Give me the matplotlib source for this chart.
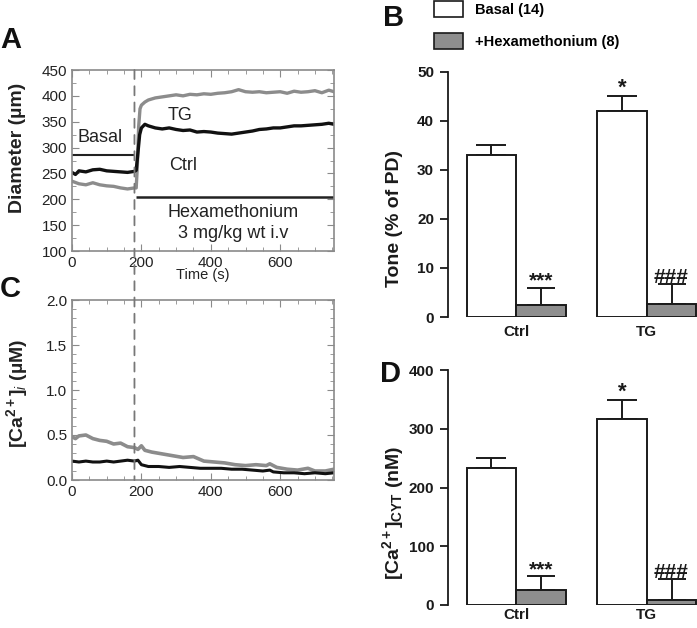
import matplotlib
matplotlib.use("Agg")
import matplotlib.pyplot as plt
from matplotlib.patches import Patch, ConnectionPatch
from matplotlib.ticker import MultipleLocator, FormatStrFormatter
import numpy as np

plt.rcParams['font.family'] = ['Liberation Sans', 'DejaVu Sans']
plt.rcParams['mathtext.fontset'] = 'custom'
plt.rcParams['mathtext.rm'] = 'Liberation Sans:bold'
plt.rcParams['mathtext.it'] = 'Liberation Sans:italic'
plt.rcParams['mathtext.bf'] = 'Liberation Sans:bold'
plt.rcParams['mathtext.default'] = 'bf'

# ---------------- Data ----------------
# Panel A: diameter traces (um) vs time (s)
ctrl_t = [0, 10, 20, 40, 60, 80, 100, 120, 140, 160, 180, 185, 190, 195, 200, 210, 220, 240, 260, 280,
          300, 320, 340, 360, 380, 400, 420, 440, 460, 480, 500, 520, 540, 560, 580, 600, 620, 640,
          660, 680, 700, 720, 740, 755]
ctrl_d = [252, 248, 255, 253, 257, 258, 255, 254, 253, 252, 254, 256, 290, 325, 338, 345, 342, 338, 336, 338,
          335, 333, 334, 330, 331, 330, 328, 327, 326, 328, 330, 332, 335, 336, 338, 338, 340, 342,
          342, 343, 344, 345, 347, 345]
tg_t = [0, 20, 40, 60, 80, 100, 120, 140, 160, 180, 185, 188, 192, 196, 200, 210, 220, 240, 260, 280,
        300, 320, 340, 360, 380, 400, 420, 440, 460, 480, 500, 520, 540, 560, 580, 600, 620, 640,
        660, 680, 700, 720, 740, 755]
tg_d = [235, 230, 228, 232, 228, 226, 225, 222, 220, 222, 222, 260, 340, 375, 382, 388, 392, 396, 398, 400,
        402, 400, 403, 402, 404, 403, 405, 406, 408, 412, 408, 407, 408, 406, 407, 408, 405, 409,
        407, 408, 410, 406, 411, 408]
basal_level = 285
hexa_level = 205
drug_time = 180

# Panel C: [Ca2+]i traces (uM)
tgca_t = [0, 10, 20, 40, 60, 80, 100, 120, 140, 160, 180, 190, 200, 210, 230, 260, 290, 320, 350, 380,
          410, 440, 470, 500, 530, 560, 570, 590, 620, 650, 680, 700, 730, 755]
tgca_v = [0.48, 0.46, 0.49, 0.50, 0.46, 0.44, 0.43, 0.40, 0.41, 0.37, 0.36, 0.34, 0.38, 0.33, 0.31, 0.29,
          0.27, 0.25, 0.26, 0.21, 0.20, 0.19, 0.17, 0.16, 0.17, 0.16, 0.18, 0.14, 0.12, 0.11, 0.13, 0.10,
          0.10, 0.12]
ctca_t = [0, 20, 40, 60, 80, 100, 120, 140, 160, 180, 190, 200, 220, 250, 280, 310, 340, 370, 400, 430,
          460, 490, 520, 550, 570, 580, 610, 640, 670, 700, 730, 755]
ctca_v = [0.21, 0.20, 0.21, 0.20, 0.20, 0.21, 0.20, 0.21, 0.22, 0.21, 0.22, 0.17, 0.15, 0.15, 0.14, 0.15,
          0.14, 0.13, 0.13, 0.13, 0.12, 0.12, 0.11, 0.10, 0.11, 0.09, 0.08, 0.08, 0.07, 0.08, 0.07, 0.08]

# Panels B and D: bar charts
groups = ['Ctrl', 'TG']
tone_basal = [33, 42]
tone_basal_err = [2, 3]
tone_hexa = [2.5, 2.6]
tone_hexa_err = [3.5, 4.2]
ca_basal = [233, 317]
ca_basal_err = [18, 32]
ca_hexa = [25, 9]
ca_hexa_err = [24, 35]
basal_marks = ['', '*']
hexa_marks = ['***', '###']
legend_labels = ['Basal (14)', '+Hexamethonium (8)']

W, H = 697, 628
fig = plt.figure(figsize=(W / 100, H / 100), dpi=100)

def ax_px(left, top, right, bottom):
    return fig.add_axes([left / W, 1 - bottom / H, (right - left) / W, (bottom - top) / H])

frame_col = '#8a8a8a'
text_col = '#222222'

def trace_style(ax, xlim, ylim, ymaj, ymin):
    ax.set_xlim(*xlim)
    ax.set_ylim(*ylim)
    for s in ax.spines.values():
        s.set_color(frame_col)
        s.set_linewidth(1.2)
    ax.xaxis.set_major_locator(MultipleLocator(200))
    ax.xaxis.set_minor_locator(MultipleLocator(50))
    ax.yaxis.set_major_locator(MultipleLocator(ymaj))
    ax.yaxis.set_minor_locator(MultipleLocator(ymin))
    ax.tick_params(which='both', direction='in', top=True, right=True, color=frame_col,
                   labelsize=11, labelcolor=text_col)
    ax.tick_params(which='major', length=5)
    ax.tick_params(which='minor', length=3)

# ---- Panel A ----
axA = ax_px(72, 70, 334, 251)
trace_style(axA, (0, 755), (100, 450), 50, 25)
axA.plot(tg_t, tg_d, color='#8c8c8c', lw=2.4)
axA.plot(ctrl_t, ctrl_d, color='#111111', lw=2.4)
axA.hlines(basal_level, 0, drug_time - 2, color='#222222', lw=1.5)
axA.hlines(hexa_level, drug_time + 5, 755, color='#222222', lw=1.8)
axA.text(17, 319, 'Basal', fontsize=13, color=text_col, ha='left', va='center')
axA.text(311, 362, 'TG', fontsize=13, color=text_col, ha='center', va='center')
axA.text(319, 265, 'Ctrl', fontsize=13, color=text_col, ha='center', va='center')
axA.text(465, 175, 'Hexamethonium', fontsize=13, color=text_col, ha='center', va='center')
axA.text(465, 133, '3 mg/kg wt i.v', fontsize=13, color=text_col, ha='center', va='center')
axA.set_ylabel('Diameter (µm)', fontsize=14, fontweight='bold', color=text_col)
axA.yaxis.set_label_coords(-0.175, 0.57)
axA.set_xlabel('Time (s)', fontsize=10.5, color=text_col, labelpad=-1)

# ---- Panel C ----
axC = ax_px(72, 300, 334, 480)
trace_style(axC, (0, 755), (0, 2.0), 0.5, 0.1)
axC.plot(tgca_t, tgca_v, color='#8c8c8c', lw=2.6)
axC.plot(ctca_t, ctca_v, color='#111111', lw=2.2)
axC.yaxis.set_major_formatter(FormatStrFormatter('%.1f'))
axC.set_ylabel(r'[Ca$^{\mathbf{2+}}$]$_{\mathit{i}}$ (µM)', fontsize=14, fontweight='bold', color=text_col)
axC.yaxis.set_label_coords(-0.16, 0.48)

con = ConnectionPatch(xyA=(drug_time, 450), coordsA=axA.transData,
                      xyB=(drug_time, 0), coordsB=axC.transData,
                      color='#777777', lw=1.3, linestyle=(0, (5, 4)))
fig.add_artist(con)

# ---- Bar panels ----
bar_w = 0.38
x = np.arange(len(groups))
hexa_col = '#8e8e8e'

def bar_panel(ax, basal, basal_err, hexa, hexa_err, ymax, ystep, ylabel, mark_off, label_x, label_y):
    ax.bar(x - bar_w / 2, basal, bar_w, color='white', edgecolor='#1a1a1a', lw=1.4, zorder=2)
    ax.bar(x + bar_w / 2, hexa, bar_w, color=hexa_col, edgecolor='#1a1a1a', lw=1.4, zorder=2)
    ax.errorbar(x - bar_w / 2, basal, yerr=[np.zeros(len(basal)), basal_err], fmt='none',
                ecolor='#1a1a1a', elinewidth=1.4, capsize=11, capthick=1.4, zorder=1)
    ax.errorbar(x + bar_w / 2, hexa, yerr=[np.zeros(len(hexa)), hexa_err], fmt='none',
                ecolor='#1a1a1a', elinewidth=1.4, capsize=10, capthick=1.4, zorder=1)
    for i in range(len(groups)):
        if basal_marks[i]:
            ax.text(x[i] - bar_w / 2, basal[i] + basal_err[i] + mark_off, basal_marks[i],
                    ha='center', va='bottom', fontsize=16, fontweight='bold', color='#1a1a1a')
        ax.text(x[i] + bar_w / 2, hexa[i] + hexa_err[i] + mark_off, hexa_marks[i],
                ha='center', va='bottom', fontsize=15, fontweight='bold', color='#1a1a1a')
    ax.set_xlim(-0.523, 1.385)
    ax.set_ylim(0, ymax)
    ax.set_yticks(np.arange(0, ymax + 1, ystep))
    ax.set_xticks(x)
    ax.set_xticklabels(groups, fontsize=11, fontweight='bold', color='#1a1a1a')
    for s in ['top', 'right', 'bottom']:
        ax.spines[s].set_visible(False)
    ax.spines['left'].set_linewidth(1.3)
    ax.spines['left'].set_color('#1a1a1a')
    ax.tick_params(axis='y', direction='out', length=6, width=1.3, labelsize=11, color='#1a1a1a',
                   labelcolor='#1a1a1a', pad=4)
    for lab in ax.get_yticklabels():
        lab.set_fontweight('bold')
    ax.tick_params(axis='x', length=0, pad=6)
    ax.set_ylabel(ylabel, fontsize=14, fontweight='bold', color='#1a1a1a')
    ax.yaxis.set_label_coords(label_x, label_y)

axB = ax_px(448, 71.7, 697, 317)
bar_panel(axB, tone_basal, tone_basal_err, tone_hexa, tone_hexa_err, 50, 10, 'Tone (% of PD)',
          -0.6, -0.18, 0.40)

axD = ax_px(448, 370, 697, 605)
bar_panel(axD, ca_basal, ca_basal_err, ca_hexa, ca_hexa_err, 400, 100,
          r'[Ca$^{\mathbf{2+}}$]$_{\mathbf{CYT}}$ (nM)', -5, -0.17, 0.39)
axD.tick_params(axis='x', pad=2)

handles = [Patch(facecolor='white', edgecolor='#1a1a1a', lw=1.2),
           Patch(facecolor=hexa_col, edgecolor='#1a1a1a', lw=1.2)]
fig.legend(handles, legend_labels, loc='upper left', bbox_to_anchor=(428 / W, 1 - (-5) / H),
           frameon=False, prop={'weight': 'bold', 'size': 10.5}, handlelength=2.0,
           handleheight=1.3, labelspacing=1.1, handletextpad=0.8, borderaxespad=0)

# Panel letters
for lbl, px, py in [('A', 0, 48), ('B', 383, 26), ('C', 0, 297), ('D', 380, 382)]:
    fig.text(px / W, 1 - py / H, lbl, fontsize=21, fontweight='bold', color='#111111',
             ha='left', va='baseline')

fig.savefig('out.png', dpi=100)
